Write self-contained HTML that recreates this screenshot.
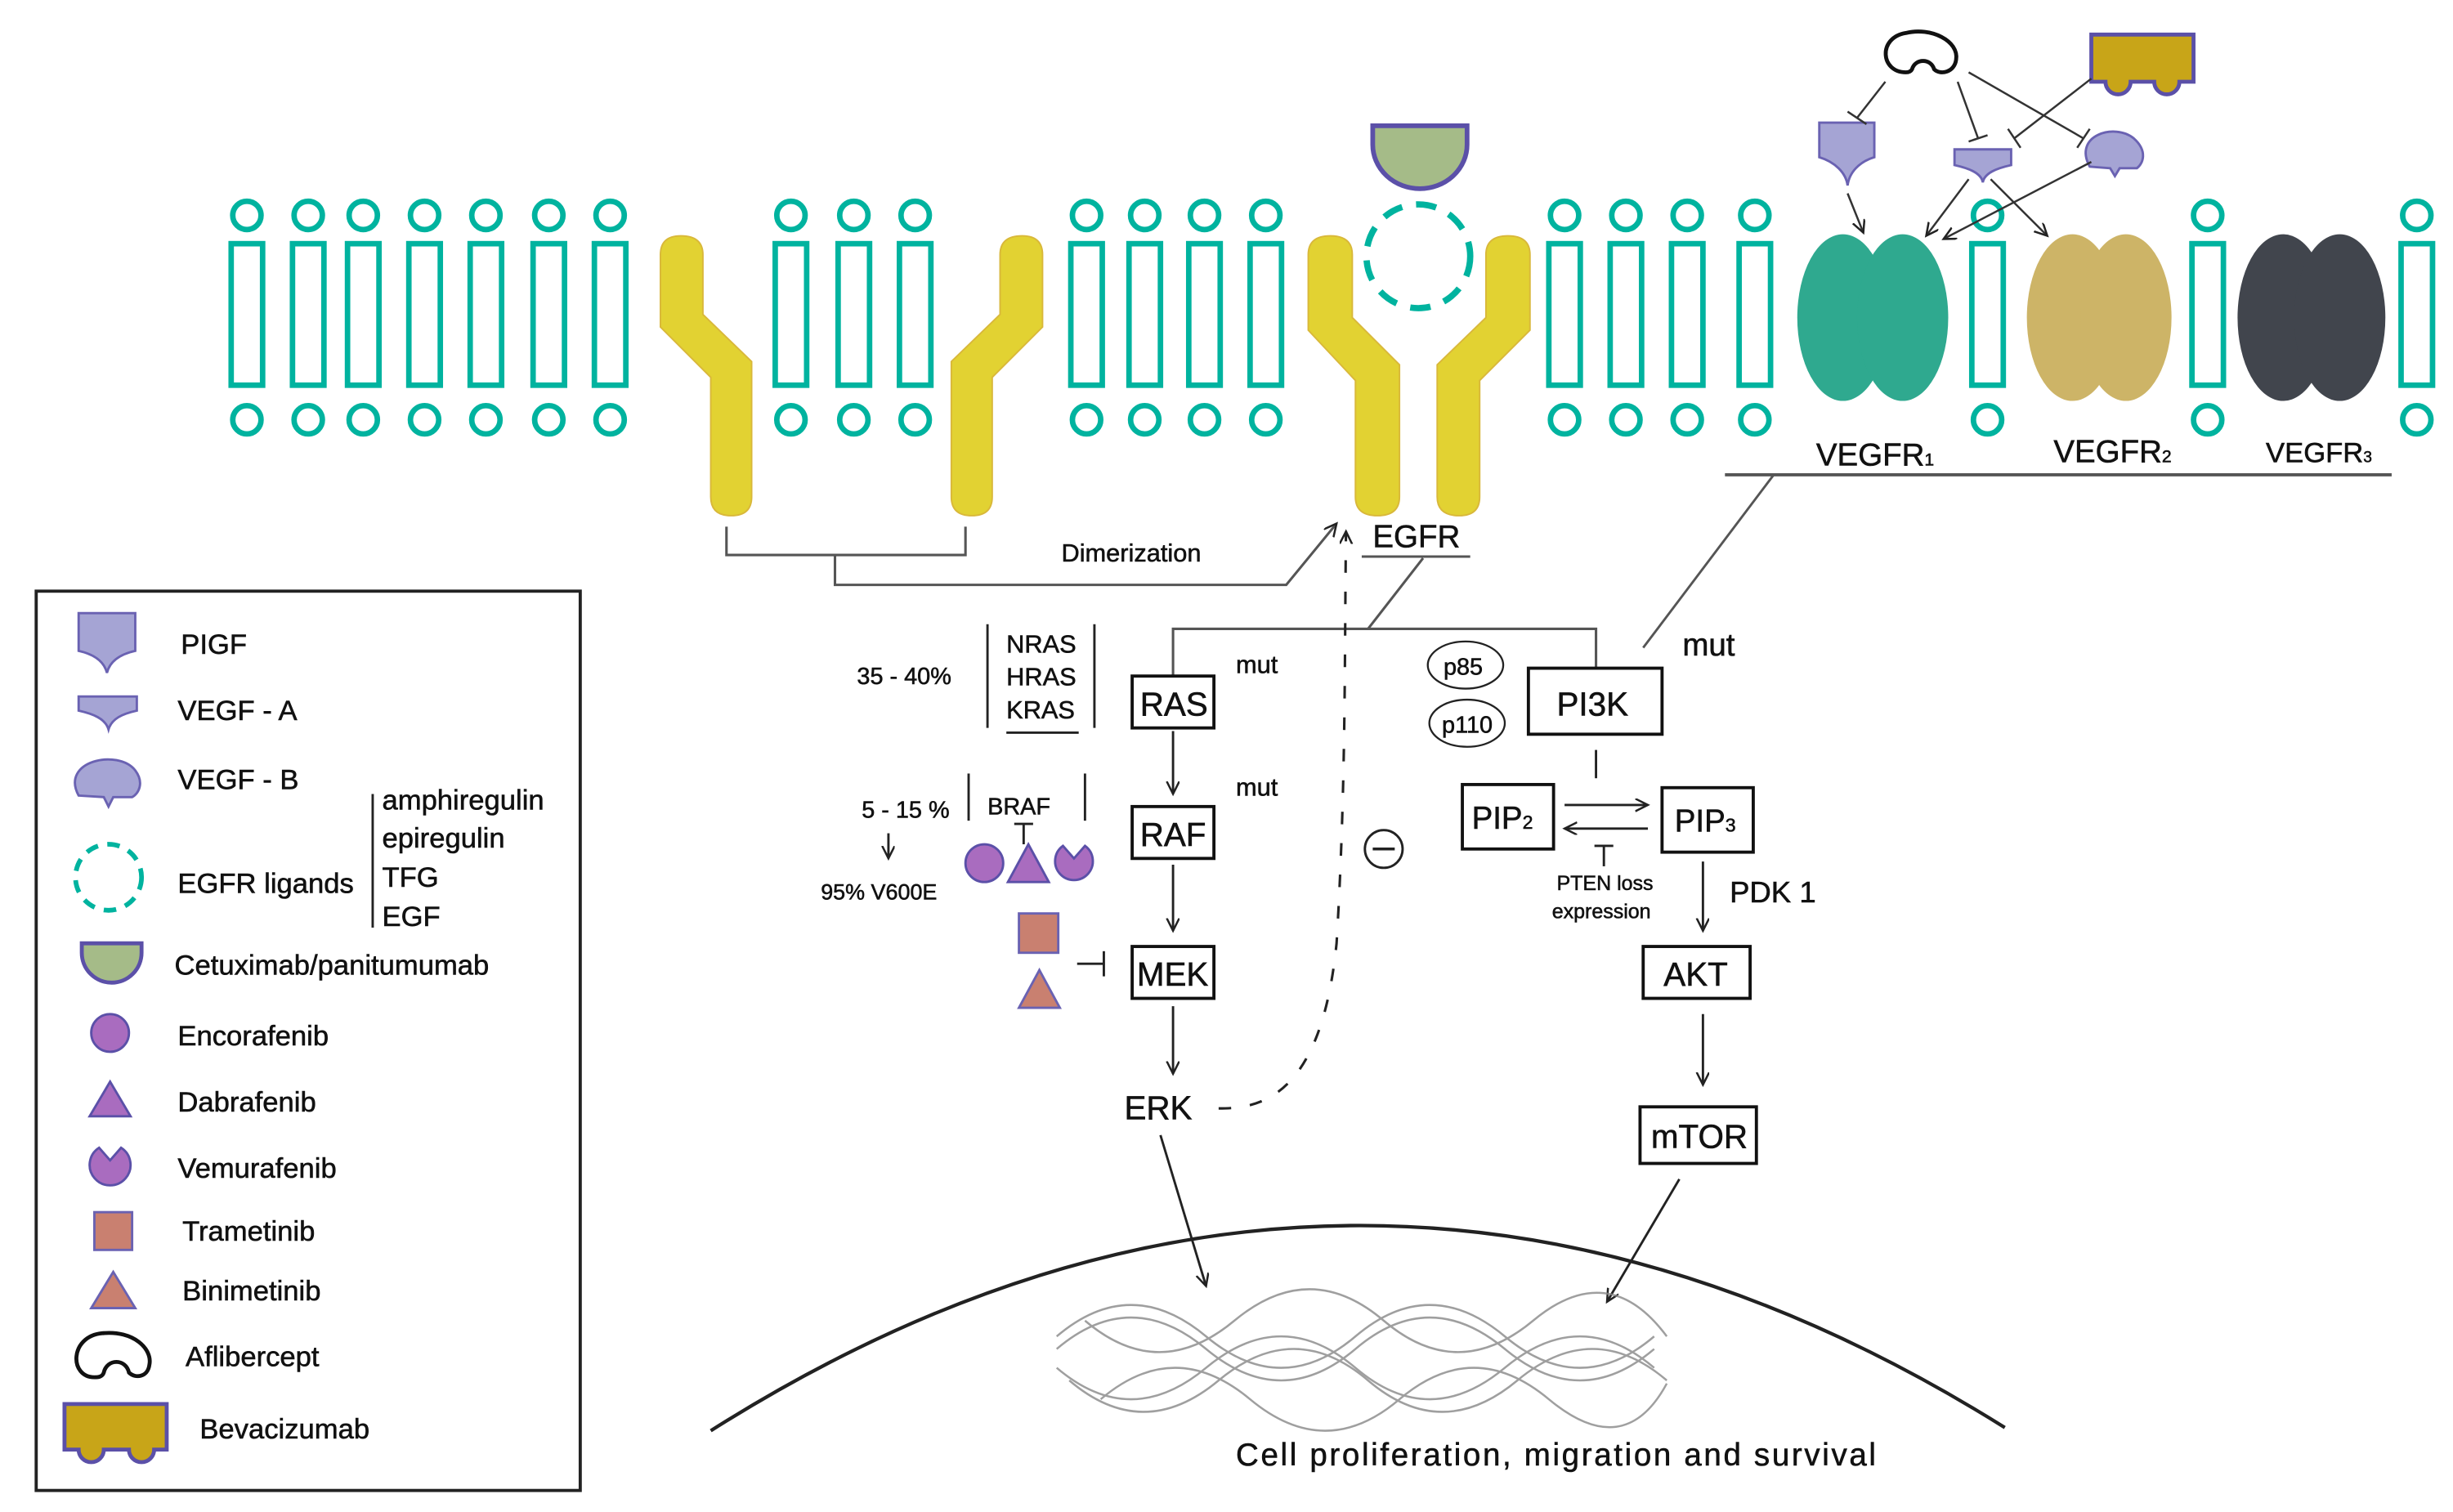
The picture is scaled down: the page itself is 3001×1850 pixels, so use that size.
<!DOCTYPE html>
<html><head><meta charset="utf-8"><style>
html,body{margin:0;padding:0;background:#fff;}
svg{display:block;}
text{font-family:"Liberation Sans Narrow","Liberation Sans",sans-serif;fill:#111;stroke:#111;stroke-width:0.3;}
</style></head><body>
<svg width="3001" height="1850" viewBox="0 0 1560 961.7" xmlns="http://www.w3.org/2000/svg">
<defs>
<marker id="ar" markerWidth="10" markerHeight="10" refX="8" refY="4" orient="auto" markerUnits="userSpaceOnUse"><path d="M0,0 L8,4 L0,8" fill="none" stroke="#222" stroke-width="1.3"/></marker>
<g id="lip"><circle cx="0" cy="137" r="9" fill="none" stroke="#00b39f" stroke-width="3.5"/><rect x="-10" y="155" width="20" height="90" fill="none" stroke="#00b39f" stroke-width="3.5"/><circle cx="0" cy="267" r="9" fill="none" stroke="#00b39f" stroke-width="3.5"/></g>
</defs>
<use href="#lip" x="157"/><use href="#lip" x="196"/><use href="#lip" x="231"/><use href="#lip" x="270"/><use href="#lip" x="309"/><use href="#lip" x="349"/><use href="#lip" x="388"/>
<use href="#lip" x="503"/><use href="#lip" x="543"/><use href="#lip" x="582"/>
<use href="#lip" x="691"/><use href="#lip" x="728"/><use href="#lip" x="766"/><use href="#lip" x="805"/>
<use href="#lip" x="995"/><use href="#lip" x="1034"/><use href="#lip" x="1073"/><use href="#lip" x="1116"/>
<use href="#lip" x="1264"/><use href="#lip" x="1404"/><use href="#lip" x="1537"/>
<g fill="#e2d232" stroke="#d9b83a" stroke-width="1">
<path d="M420,162 Q420,150 433,150 Q447,150 447,162 L447,200 L478,230 L478,316 Q478,328 465,328 Q452,328 452,316 L452,240 L420,208 Z"/>
<path d="M663,162 Q663,150 650,150 Q636,150 636,162 L636,200 L605,230 L605,316 Q605,328 618,328 Q631,328 631,316 L631,240 L663,208 Z"/>
<path d="M832,162 Q832,150 846,150 Q860,150 860,162 L860,202 L890,232 L890,316 Q890,328 876,328 Q862,328 862,316 L862,242 L832,210 Z"/>
<path d="M973,162 Q973,150 959,150 Q945,150 945,162 L945,202 L914,232 L914,316 Q914,328 928,328 Q941,328 941,316 L941,242 L973,210 Z"/>
</g>
<path d="M873,80 H933 V92 A30,28 0 0 1 873,92 Z" fill="#a5bb88" stroke="#5b50a8" stroke-width="3"/>
<circle cx="902" cy="163" r="33" fill="none" stroke="#00b39f" stroke-width="4" stroke-dasharray="13,9"/>
<g fill="#2fa98f"><ellipse cx="1172" cy="202" rx="29" ry="53"/><ellipse cx="1210" cy="202" rx="29" ry="53"/></g>
<g fill="#cdb467"><ellipse cx="1318" cy="202" rx="29" ry="53"/><ellipse cx="1352" cy="202" rx="29" ry="53"/></g>
<g fill="#41454d"><ellipse cx="1452" cy="202" rx="29" ry="53"/><ellipse cx="1488" cy="202" rx="29" ry="53"/></g>
<text x="1155" y="296" font-size="20">VEGFR<tspan font-size="11">1</tspan></text>
<text x="1306" y="294" font-size="20">VEGFR<tspan font-size="11">2</tspan></text>
<text x="1441" y="294" font-size="18">VEGFR<tspan font-size="10">3</tspan></text>
<g stroke="#555" stroke-width="2" fill="none">
<line x1="1097" y1="302" x2="1521" y2="302"/>
<line x1="1128" y1="302" x2="1045" y2="412" stroke-width="1.5"/>
</g>
<text x="1070" y="417" font-size="20">mut</text>
<path d="M1330,22 H1395 V52 H1386 A8,8 0 0 1 1370,52 H1355 A8,8 0 0 1 1339,52 H1330 Z" fill="#c8a518" stroke="#5b50a8" stroke-width="2.5"/>
<path d="M1212,46 C1196,46 1194,24 1212,21 C1228,17 1246,26 1244,38 C1243,46 1234,48 1230,44 C1228,37 1218,37 1216,44 C1215,46 1213,46 1212,46 Z" fill="none" stroke="#111" stroke-width="2.5"/>
<path d="M1157,78 H1192 V100 C1182,103 1176,110 1175,118 C1174,110 1167,103 1157,100 Z" fill="#a5a4d4" stroke="#6a62b2" stroke-width="1.5"/>
<path d="M1243,95 H1279 V105 C1270,107 1262,110 1261,116 C1260,110 1252,107 1243,105 Z" fill="#a5a4d4" stroke="#6a62b2" stroke-width="1.5"/>
<path d="M1329,106 C1318,86 1345,78 1357,88 C1366,96 1363,104 1359,107 L1348,107 L1345,112 L1342,107 Z" fill="#a5a4d4" stroke="#6a62b2" stroke-width="1.5"/>
<g stroke="#333" stroke-width="1.3" fill="none">
<line x1="1199" y1="52" x2="1181" y2="75"/><line x1="1175" y1="71" x2="1187" y2="79"/>
<line x1="1245" y1="52" x2="1258" y2="88"/><line x1="1252" y1="90" x2="1264" y2="86"/>
<line x1="1252" y1="46" x2="1325" y2="88"/><line x1="1321" y1="94" x2="1329" y2="82"/>
<line x1="1330" y1="50" x2="1281" y2="88"/><line x1="1277" y1="82" x2="1285" y2="94"/>
<line x1="1175" y1="123" x2="1185" y2="148" marker-end="url(#ar)"/>
<line x1="1252" y1="114" x2="1225" y2="150" marker-end="url(#ar)"/>
<line x1="1266" y1="114" x2="1302" y2="150" marker-end="url(#ar)"/>
<line x1="1330" y1="103" x2="1236" y2="152" marker-end="url(#ar)"/>
</g>
<text x="873" y="348" font-size="20">EGFR</text>
<g stroke="#555" stroke-width="1.6" fill="none">
<line x1="866" y1="354" x2="935" y2="354"/>
<line x1="905" y1="355" x2="870" y2="400"/>
<polyline points="746,430 746,400 1015,400 1015,425"/>
<polyline points="462,335 462,353 614,353 614,335"/>
<polyline points="531,353 531,372 818,372 850,333" marker-end="url(#ar)"/>
<path d="M775,705 C800,705 840,700 850,600 C856,500 855,420 856,338" stroke="#222" stroke-dasharray="8,12" marker-end="url(#ar)"/>
</g>
<text x="675" y="357" font-size="16">Dimerization</text>
<circle cx="880" cy="540" r="12" fill="none" stroke="#222" stroke-width="1.5"/><line x1="873" y1="540" x2="887" y2="540" stroke="#222" stroke-width="1.8"/>
<g fill="none" stroke="#111" stroke-width="2">
<rect x="720" y="430" width="52" height="33"/><rect x="720" y="513" width="52" height="33"/><rect x="720" y="602" width="52" height="33"/>
<rect x="972" y="425" width="85" height="42"/><rect x="930" y="499" width="58" height="41"/><rect x="1057" y="501" width="58" height="41"/>
<rect x="1045" y="602" width="68" height="33"/><rect x="1043" y="704" width="74" height="36"/>
</g>
<text x="725" y="455" font-size="21">RAS</text>
<text x="725" y="538" font-size="21">RAF</text>
<text x="723" y="627" font-size="21">MEK</text>
<text x="715" y="712" font-size="21">ERK</text>
<text x="990" y="455" font-size="21">PI3K</text>
<text x="936" y="527" font-size="20">PIP<tspan font-size="12">2</tspan></text>
<text x="1065" y="529" font-size="20">PIP<tspan font-size="12">3</tspan></text>
<text x="1058" y="627" font-size="21">AKT</text>
<text x="1050" y="730" font-size="21">mTOR</text>
<text x="786" y="428" font-size="16">mut</text>
<text x="786" y="506" font-size="16">mut</text>
<g stroke="#222" stroke-width="1.5" fill="none">
<line x1="746" y1="465" x2="746" y2="505" marker-end="url(#ar)"/>
<line x1="746" y1="550" x2="746" y2="592" marker-end="url(#ar)"/>
<line x1="746" y1="640" x2="746" y2="683" marker-end="url(#ar)"/>
<line x1="738" y1="722" x2="767" y2="818" marker-end="url(#ar)"/>
<line x1="1068" y1="750" x2="1022" y2="828" marker-end="url(#ar)"/>
<line x1="1015" y1="477" x2="1015" y2="495"/>
<line x1="995" y1="512" x2="1048" y2="512" marker-end="url(#ar)"/>
<line x1="1048" y1="527" x2="995" y2="527" marker-end="url(#ar)"/>
<line x1="1020" y1="551" x2="1020" y2="538"/><line x1="1014" y1="538" x2="1026" y2="538"/>
<line x1="1083" y1="548" x2="1083" y2="592" marker-end="url(#ar)"/>
<line x1="1083" y1="645" x2="1083" y2="690" marker-end="url(#ar)"/>
<line x1="628" y1="397" x2="628" y2="463"/><line x1="696" y1="397" x2="696" y2="463"/><line x1="640" y1="466" x2="686" y2="466"/>
<line x1="616" y1="492" x2="616" y2="522"/><line x1="690" y1="492" x2="690" y2="522"/>
<line x1="651" y1="537" x2="651" y2="524"/><line x1="645" y1="524" x2="657" y2="524"/>
<line x1="565" y1="530" x2="565" y2="546" marker-end="url(#ar)"/>
<line x1="685" y1="613" x2="702" y2="613"/><line x1="702" y1="605" x2="702" y2="621"/>
</g>
<ellipse cx="932" cy="423" rx="24" ry="15" fill="none" stroke="#222" stroke-width="1.2"/>
<ellipse cx="933" cy="460" rx="24" ry="15" fill="none" stroke="#222" stroke-width="1.2"/>
<text x="918" y="429" font-size="15">p85</text>
<text x="917" y="466" font-size="15">p110</text>
<text x="990" y="566" font-size="13">PTEN loss</text>
<text x="987" y="584" font-size="13">expression</text>
<text x="1100" y="574" font-size="19">PDK 1</text>
<text x="545" y="435" font-size="15">35 - 40%</text>
<text x="640" y="415" font-size="16">NRAS</text><text x="640" y="436" font-size="16">HRAS</text><text x="640" y="457" font-size="16">KRAS</text>
<text x="548" y="520" font-size="15">5 - 15 %</text>
<text x="628" y="518" font-size="15">BRAF</text>
<text x="522" y="572" font-size="14">95% V600E</text>
<g fill="#a96cbf" stroke="#5b50a8" stroke-width="1.5">
<circle cx="626" cy="549" r="12"/>
<path d="M654,537 L667,561 L641,561 Z"/>
<path d="M676,538 L683,546 L690,538 A12,12 0 1 1 676,538 Z"/>
</g>
<g fill="#c98070" stroke="#6a62b2" stroke-width="1.5">
<rect x="648" y="581" width="25" height="25"/>
<path d="M661,617 L674,641 L648,641 Z"/>
</g>
<path d="M452,910 Q863,650 1275,908" fill="none" stroke="#222" stroke-width="2.2"/>
<g fill="none" stroke="#888" stroke-width="1.3" opacity="0.8">
<path d="M672,850 Q719,810 767,850 T862,850 T957,850 T1052,850"/>
<path d="M672,858 Q719,818 767,858 T862,858 T957,858 T1052,858"/>
<path d="M672,870 Q719,910 767,870 T862,870 T957,870 T1052,870"/>
<path d="M680,878 Q727,918 775,878 T870,878 T965,878 T1060,878"/>
<path d="M690,840 Q737,880 785,840 T880,840 T975,840 T1060,850"/>
<path d="M700,890 Q747,850 795,890 T890,890 T985,890 T1060,880"/>
</g>
<text x="786" y="932" font-size="20" textLength="407" lengthAdjust="spacing">Cell proliferation, migration and survival</text>
<rect x="23" y="376" width="346" height="572" fill="none" stroke="#222" stroke-width="2"/>
<path d="M50,390 H86 V414 C77,416 70,420 68,428 C66,420 59,416 50,414 Z" fill="#a5a4d4" stroke="#6a62b2" stroke-width="1.5"/>
<path d="M50,443 H87 V452 C78,454 71,457 69,464 C67,457 59,454 50,452 Z" fill="#a5a4d4" stroke="#6a62b2" stroke-width="1.5"/>
<path d="M50,506 C38,484 75,476 86,490 C92,498 88,505 84,507 L72,507 L69,513 L66,507 Z" fill="#a5a4d4" stroke="#6a62b2" stroke-width="1.5"/>
<circle cx="69" cy="558" r="21" fill="none" stroke="#00b39f" stroke-width="3" stroke-dasharray="8,6"/>
<path d="M52,600 H90 V606 A19,19 0 0 1 52,606 Z" fill="#a5bb88" stroke="#5b50a8" stroke-width="2.5"/>
<circle cx="70" cy="657" r="12" fill="#a96cbf" stroke="#5b50a8" stroke-width="1.5"/>
<path d="M70,688 L83,710 L57,710 Z" fill="#a96cbf" stroke="#5b50a8" stroke-width="1.5"/>
<path d="M63,730 L70,738 L77,730 A13,13 0 1 1 63,730 Z" fill="#a96cbf" stroke="#5b50a8" stroke-width="1.5"/>
<rect x="60" y="771" width="24" height="24" fill="#c98070" stroke="#6a62b2" stroke-width="1.5"/>
<path d="M72,809 L86,832 L58,832 Z" fill="#c98070" stroke="#6a62b2" stroke-width="1.5"/>
<path d="M60,876 C44,876 44,850 65,848 C85,846 97,858 95,868 C94,876 86,877 82,873 C80,864 68,864 66,873 C65,876 62,876 60,876 Z" fill="none" stroke="#111" stroke-width="2.5"/>
<path d="M41,893 H106 V922 H98 A8,8 0 0 1 82,922 H66 A8,8 0 0 1 50,922 H41 Z" fill="#c8a518" stroke="#5b50a8" stroke-width="2.5"/>
<line x1="237" y1="505" x2="237" y2="590" stroke="#222" stroke-width="1.5"/>
<g font-size="18">
<text x="115" y="416">PIGF</text>
<text x="113" y="458">VEGF - A</text>
<text x="113" y="502">VEGF - B</text>
<text x="113" y="568">EGFR ligands</text>
<text x="243" y="515">amphiregulin</text>
<text x="243" y="539">epiregulin</text>
<text x="243" y="564">TFG</text>
<text x="243" y="589">EGF</text>
<text x="111" y="620">Cetuximab/panitumumab</text>
<text x="113" y="665">Encorafenib</text>
<text x="113" y="707">Dabrafenib</text>
<text x="113" y="749">Vemurafenib</text>
<text x="116" y="789">Trametinib</text>
<text x="116" y="827">Binimetinib</text>
<text x="118" y="869">Aflibercept</text>
<text x="127" y="915">Bevacizumab</text>
</g>
</svg>
</body></html>
